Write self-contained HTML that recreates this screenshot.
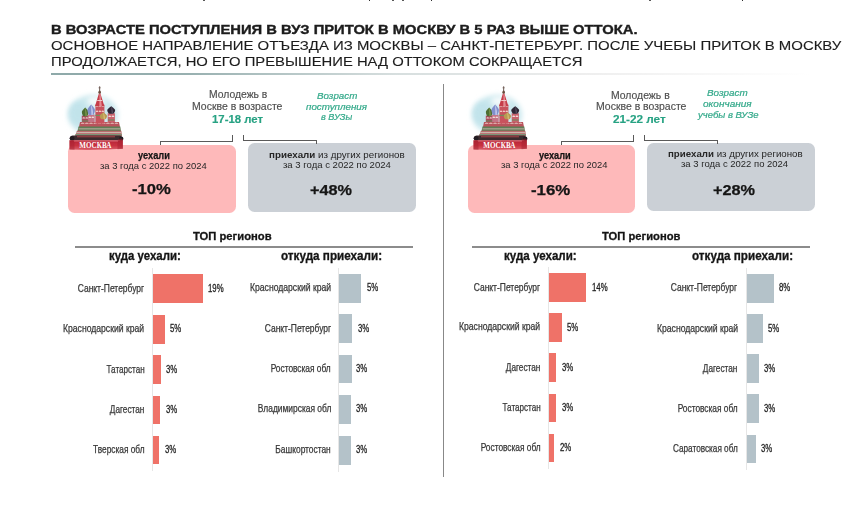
<!DOCTYPE html>
<html lang="ru"><head><meta charset="utf-8"><title>Приток и отток молодежи</title>
<style>
html,body{margin:0;padding:0;background:#fff;}
body{width:866px;height:514px;position:relative;overflow:hidden;font-family:"Liberation Sans",Arial,sans-serif;}
.t,.lb,.vl{position:absolute;white-space:nowrap;}
.t{transform-origin:0 0;}
.lb{transform-origin:100% 50%;-webkit-text-stroke:0.25px #383838;}
.vl{transform-origin:0 50%;-webkit-text-stroke:0.28px #222;}
.box{position:absolute;border-radius:6.5px;}
.ln{position:absolute;}
.ax{position:absolute;width:1px;background:#e6e6e6;}
.bar{position:absolute;}
.cat{position:absolute;overflow:visible;}
.mk{position:absolute;top:0;height:1.3px;background:#222;border-radius:0 0 1px 1px;}
.rule{position:absolute;height:2px;background:#8c8c8c;}
</style></head><body>
<div class="mk" style="left:203.2px;width:1.8px"></div>
<div class="mk" style="left:368.6px;width:1.8px"></div>
<div class="mk" style="left:392.2px;width:1.8px"></div>
<div class="mk" style="left:402.2px;width:1.8px"></div>
<div class="mk" style="left:430.6px;width:1.8px"></div>
<div class="mk" style="left:649.2px;width:1.6px"></div>
<div class="mk" style="left:741.6px;width:1.6px"></div>
<div style="position:absolute;left:50.5px;top:72.8px;width:760px;height:2.4px;background:linear-gradient(90deg,#8ea9a9 0%,#98b0b0 18%,#d6dede 45%,#eeeeee 70%,rgba(240,240,240,0) 100%)"></div>
<div style="position:absolute;left:443px;top:84px;width:1.2px;height:393px;background:#888"></div>
<div class="box" style="left:67.5px;top:144.8px;width:168.5px;height:67.9px;background:#feb9ba"></div>
<div class="box" style="left:248.3px;top:143.2px;width:167.4px;height:68.5px;background:#cbd0d6"></div>
<div class="box" style="left:468px;top:145px;width:167.0px;height:67.5px;background:#feb9ba"></div>
<div class="box" style="left:647.4px;top:143px;width:167.6px;height:68.3px;background:#cbd0d6"></div>
<div class="ln" style="left:160.3px;top:140.5px;width:73.0px;height:1px;background:#5a5a5a"></div>
<div class="ln" style="left:160.3px;top:140.5px;width:1px;height:4px;background:#5a5a5a"></div>
<div class="ln" style="left:232.3px;top:135.3px;width:1px;height:6px;background:#5a5a5a"></div>
<div class="ln" style="left:243.4px;top:140.3px;width:73.5px;height:1px;background:#5a5a5a"></div>
<div class="ln" style="left:243.4px;top:135.3px;width:1px;height:6px;background:#5a5a5a"></div>
<div class="ln" style="left:316.3px;top:140.3px;width:1px;height:4px;background:#5a5a5a"></div>
<div class="ln" style="left:560.8px;top:140.5px;width:73.0px;height:1px;background:#5a5a5a"></div>
<div class="ln" style="left:560.8px;top:140.5px;width:1px;height:4px;background:#5a5a5a"></div>
<div class="ln" style="left:632.8px;top:135.3px;width:1px;height:6px;background:#5a5a5a"></div>
<div class="ln" style="left:643.9px;top:140.3px;width:73.5px;height:1px;background:#5a5a5a"></div>
<div class="ln" style="left:643.9px;top:135.3px;width:1px;height:6px;background:#5a5a5a"></div>
<div class="ln" style="left:716.8px;top:140.3px;width:1px;height:4px;background:#5a5a5a"></div>
<svg class="cat" style="left:58px;top:78px" width="80" height="80" viewBox="58 78 80 80">
<defs><filter id="bl0" x="-60%" y="-60%" width="220%" height="220%"><feGaussianBlur stdDeviation="2.6"/></filter>
<filter id="sb0" x="-20%" y="-20%" width="140%" height="140%"><feGaussianBlur stdDeviation="0.4"/></filter></defs>
<ellipse cx="93" cy="115" rx="25" ry="20" fill="#cbe8ee" filter="url(#bl0)"/>
<ellipse cx="78" cy="113" rx="9" ry="11" fill="#bfe2ea" filter="url(#bl0)" opacity="0.8"/>
<ellipse cx="96" cy="101" rx="9" ry="5" fill="#f4fafb" filter="url(#bl0)"/>
<g filter="url(#sb0)">
<rect x="81.8" y="115.6" width="6.8" height="9" fill="#a9485a"/>
<rect x="87.9" y="114.6" width="6.8" height="10" fill="#c47486"/>
<rect x="107.7" y="113.2" width="7.2" height="11" fill="#c9636d"/>
<path d="M82.40 118.50 A1.30 1.30 0 0 1 85.00 118.50 Z" fill="#f2dcd8"/><path d="M85.40 118.50 A1.30 1.30 0 0 1 88.00 118.50 Z" fill="#f2dcd8"/>
<path d="M88.50 117.90 A1.30 1.30 0 0 1 91.10 117.90 Z" fill="#f2dcd8"/><path d="M91.50 117.90 A1.30 1.30 0 0 1 94.10 117.90 Z" fill="#f2dcd8"/>
<path d="M108.30 116.90 A1.40 1.30 0 0 1 111.10 116.90 Z" fill="#f2dcd8"/><path d="M111.50 116.90 A1.40 1.30 0 0 1 114.30 116.90 Z" fill="#f2dcd8"/>
<rect x="82" y="120.5" width="6.4" height="1" fill="#6b8a5a"/>
<rect x="108" y="119.5" width="6.6" height="1" fill="#6b8a5a"/>
<path d="M80 122 L119 122 L120 127 L79 127 Z" fill="#b9525c"/>
<path d="M80.70 124.10 A1.91 1.50 0 0 1 84.52 124.10 Z" fill="#dcaaa8"/><path d="M84.92 124.10 A1.91 1.50 0 0 1 88.74 124.10 Z" fill="#dcaaa8"/><path d="M89.14 124.10 A1.91 1.50 0 0 1 92.97 124.10 Z" fill="#dcaaa8"/><path d="M93.37 124.10 A1.91 1.50 0 0 1 97.19 124.10 Z" fill="#dcaaa8"/><path d="M97.59 124.10 A1.91 1.50 0 0 1 101.41 124.10 Z" fill="#dcaaa8"/><path d="M101.81 124.10 A1.91 1.50 0 0 1 105.63 124.10 Z" fill="#dcaaa8"/><path d="M106.03 124.10 A1.91 1.50 0 0 1 109.86 124.10 Z" fill="#dcaaa8"/><path d="M110.26 124.10 A1.91 1.50 0 0 1 114.08 124.10 Z" fill="#dcaaa8"/><path d="M114.48 124.10 A1.91 1.50 0 0 1 118.30 124.10 Z" fill="#dcaaa8"/>
<path d="M78.5 126.6 L120.3 126.6 L121 131 L77.5 131 Z" fill="#5f7f57"/>
<rect x="78.5" y="128.3" width="42" height="1.1" fill="#b9a89c"/>
<path d="M77 130.8 L121.3 130.8 L122 136 L75 136 Z" fill="#b45a5f"/>
<rect x="76" y="131.8" width="45.5" height="1.5" fill="#c9b5ab"/>
<rect x="75.5" y="134" width="46.3" height="1.4" fill="#7b9577"/>
<rect x="95.4" y="104.6" width="9" height="19" fill="#c8535d"/>
<path d="M95.80 106.60 A1.23 1.40 0 0 1 98.27 106.60 Z" fill="#f3dcd5"/><path d="M98.67 106.60 A1.23 1.40 0 0 1 101.13 106.60 Z" fill="#f3dcd5"/><path d="M101.53 106.60 A1.23 1.40 0 0 1 104.00 106.60 Z" fill="#f3dcd5"/>
<path d="M95.80 111.90 A1.23 1.40 0 0 1 98.27 111.90 Z" fill="#eec9c2"/><path d="M98.67 111.90 A1.23 1.40 0 0 1 101.13 111.90 Z" fill="#eec9c2"/><path d="M101.53 111.90 A1.23 1.40 0 0 1 104.00 111.90 Z" fill="#eec9c2"/>
<rect x="95.4" y="114.8" width="9" height="1.2" fill="#6f8f5c"/>
<path d="M98.9 93.6 L100.4 93.6 L104.3 106 L95.1 106 Z" fill="#c63c48"/>
<path d="M99.5 93.6 L100.4 93.6 L101.8 106 L99.3 106 Z" fill="#e48a91"/>
<path d="M97.4 100 L102 100 L102.3 101.1 L97.1 101.1 Z" fill="#f1c9c8"/>
<line x1="99.65" y1="86.3" x2="99.65" y2="92.5" stroke="#5e4a42" stroke-width="0.9"/>
<line x1="98.5" y1="87.8" x2="100.8" y2="87.8" stroke="#5e4a42" stroke-width="0.6"/>
<ellipse cx="99.65" cy="92.2" rx="1.3" ry="1.6" fill="#6a4c3c"/>
<path d="M85.2 107.4 C87.18 109.60000000000001 88.995 111.096 88.5 112.68 C88.33500000000001 114.44000000000001 87.18 116.2 86.685 116.2 L83.715 116.2 C83.22 116.2 82.065 114.44000000000001 81.9 112.68 C81.405 111.096 83.22 109.60000000000001 85.2 107.4 Z" fill="#4d6d31"/>
<path d="M85.2 107.4 C86 110 86.9 112 86.6 116.2 L85.5 116.2 Z" fill="#86a052"/>
<path d="M91.2 104.4 C93.42 107.05000000000001 95.455 108.852 94.9 110.76 C94.715 112.88000000000001 93.42 115.0 92.86500000000001 115.0 L89.535 115.0 C88.98 115.0 87.685 112.88000000000001 87.5 110.76 C86.94500000000001 108.852 88.98 107.05000000000001 91.2 104.4 Z" fill="#8190cc"/>
<path d="M91.2 104.4 C92 107 93.3 110 92.7 115 L91.5 115 Z" fill="#cdd3f1"/>
<path d="M111.2 106.3 C113.54 108.175 115.685 109.45 115.10000000000001 110.8 C114.905 112.3 113.54 113.8 112.955 113.8 L109.44500000000001 113.8 C108.86 113.8 107.495 112.3 107.3 110.8 C106.715 109.45 108.86 108.175 111.2 106.3 Z" fill="#2e2735"/>
<path d="M111.2 106.3 C112 108 113.2 110 112.8 113.8 L111.8 113.8 Z" fill="#5b5266"/>
<path d="M103.4 112.3 C105.56 114.05 107.54 115.24 107.0 116.5 C106.82000000000001 117.89999999999999 105.56 119.3 105.02000000000001 119.3 L101.78 119.3 C101.24000000000001 119.3 99.98 117.89999999999999 99.80000000000001 116.5 C99.26 115.24 101.24000000000001 114.05 103.4 112.3 Z" fill="#b89b52"/>
<path d="M103.4 112.3 C104 114 105 116 104.7 119.3 L103.8 119.3 Z" fill="#e0c77c"/>
<rect x="70.5" y="135.6" width="51.5" height="4.6" rx="2" fill="#3a2a2e"/>
<circle cx="72" cy="138.3" r="2.4" fill="#241c20"/>
<circle cx="121.2" cy="138.8" r="2.2" fill="#241c20"/>
<rect x="77" y="135.8" width="38" height="1.6" fill="#8a3a40"/>
</g>
<linearGradient id="rg0" x1="0" y1="0" x2="0" y2="1"><stop offset="0" stop-color="#b52535"/><stop offset="0.55" stop-color="#c93241"/><stop offset="1" stop-color="#d9606b"/></linearGradient>
<path d="M69.5 140.2 L122.8 140.2 L122.8 148.8 Q96 150.6 69.5 149.6 Z" fill="url(#rg0)" filter="url(#sb0)"/>
<path d="M69.5 140.2 L74.5 140.2 L74.5 149.8 L69.5 149.6 Z" fill="#a3202f" opacity="0.5"/>
<path d="M117.5 140 Q121 137.5 123 139.5 L123 148.8 L117.5 149.2 Z" fill="#a3202f" opacity="0.5"/>
<rect x="74" y="140.5" width="44" height="1.2" fill="#e07a83" opacity="0.55"/>
<text x="95.3" y="148.3" text-anchor="middle" font-family="Liberation Serif, serif" font-weight="700" font-size="8.4" fill="#fff" textLength="32" lengthAdjust="spacingAndGlyphs">МОСКВА</text>
</svg>
<svg class="cat" style="left:462px;top:78px" width="80" height="80" viewBox="58 78 80 80">
<defs><filter id="bl404" x="-60%" y="-60%" width="220%" height="220%"><feGaussianBlur stdDeviation="2.6"/></filter>
<filter id="sb404" x="-20%" y="-20%" width="140%" height="140%"><feGaussianBlur stdDeviation="0.4"/></filter></defs>
<ellipse cx="93" cy="115" rx="25" ry="20" fill="#cbe8ee" filter="url(#bl404)"/>
<ellipse cx="78" cy="113" rx="9" ry="11" fill="#bfe2ea" filter="url(#bl404)" opacity="0.8"/>
<ellipse cx="96" cy="101" rx="9" ry="5" fill="#f4fafb" filter="url(#bl404)"/>
<g filter="url(#sb404)">
<rect x="81.8" y="115.6" width="6.8" height="9" fill="#a9485a"/>
<rect x="87.9" y="114.6" width="6.8" height="10" fill="#c47486"/>
<rect x="107.7" y="113.2" width="7.2" height="11" fill="#c9636d"/>
<path d="M82.40 118.50 A1.30 1.30 0 0 1 85.00 118.50 Z" fill="#f2dcd8"/><path d="M85.40 118.50 A1.30 1.30 0 0 1 88.00 118.50 Z" fill="#f2dcd8"/>
<path d="M88.50 117.90 A1.30 1.30 0 0 1 91.10 117.90 Z" fill="#f2dcd8"/><path d="M91.50 117.90 A1.30 1.30 0 0 1 94.10 117.90 Z" fill="#f2dcd8"/>
<path d="M108.30 116.90 A1.40 1.30 0 0 1 111.10 116.90 Z" fill="#f2dcd8"/><path d="M111.50 116.90 A1.40 1.30 0 0 1 114.30 116.90 Z" fill="#f2dcd8"/>
<rect x="82" y="120.5" width="6.4" height="1" fill="#6b8a5a"/>
<rect x="108" y="119.5" width="6.6" height="1" fill="#6b8a5a"/>
<path d="M80 122 L119 122 L120 127 L79 127 Z" fill="#b9525c"/>
<path d="M80.70 124.10 A1.91 1.50 0 0 1 84.52 124.10 Z" fill="#dcaaa8"/><path d="M84.92 124.10 A1.91 1.50 0 0 1 88.74 124.10 Z" fill="#dcaaa8"/><path d="M89.14 124.10 A1.91 1.50 0 0 1 92.97 124.10 Z" fill="#dcaaa8"/><path d="M93.37 124.10 A1.91 1.50 0 0 1 97.19 124.10 Z" fill="#dcaaa8"/><path d="M97.59 124.10 A1.91 1.50 0 0 1 101.41 124.10 Z" fill="#dcaaa8"/><path d="M101.81 124.10 A1.91 1.50 0 0 1 105.63 124.10 Z" fill="#dcaaa8"/><path d="M106.03 124.10 A1.91 1.50 0 0 1 109.86 124.10 Z" fill="#dcaaa8"/><path d="M110.26 124.10 A1.91 1.50 0 0 1 114.08 124.10 Z" fill="#dcaaa8"/><path d="M114.48 124.10 A1.91 1.50 0 0 1 118.30 124.10 Z" fill="#dcaaa8"/>
<path d="M78.5 126.6 L120.3 126.6 L121 131 L77.5 131 Z" fill="#5f7f57"/>
<rect x="78.5" y="128.3" width="42" height="1.1" fill="#b9a89c"/>
<path d="M77 130.8 L121.3 130.8 L122 136 L75 136 Z" fill="#b45a5f"/>
<rect x="76" y="131.8" width="45.5" height="1.5" fill="#c9b5ab"/>
<rect x="75.5" y="134" width="46.3" height="1.4" fill="#7b9577"/>
<rect x="95.4" y="104.6" width="9" height="19" fill="#c8535d"/>
<path d="M95.80 106.60 A1.23 1.40 0 0 1 98.27 106.60 Z" fill="#f3dcd5"/><path d="M98.67 106.60 A1.23 1.40 0 0 1 101.13 106.60 Z" fill="#f3dcd5"/><path d="M101.53 106.60 A1.23 1.40 0 0 1 104.00 106.60 Z" fill="#f3dcd5"/>
<path d="M95.80 111.90 A1.23 1.40 0 0 1 98.27 111.90 Z" fill="#eec9c2"/><path d="M98.67 111.90 A1.23 1.40 0 0 1 101.13 111.90 Z" fill="#eec9c2"/><path d="M101.53 111.90 A1.23 1.40 0 0 1 104.00 111.90 Z" fill="#eec9c2"/>
<rect x="95.4" y="114.8" width="9" height="1.2" fill="#6f8f5c"/>
<path d="M98.9 93.6 L100.4 93.6 L104.3 106 L95.1 106 Z" fill="#c63c48"/>
<path d="M99.5 93.6 L100.4 93.6 L101.8 106 L99.3 106 Z" fill="#e48a91"/>
<path d="M97.4 100 L102 100 L102.3 101.1 L97.1 101.1 Z" fill="#f1c9c8"/>
<line x1="99.65" y1="86.3" x2="99.65" y2="92.5" stroke="#5e4a42" stroke-width="0.9"/>
<line x1="98.5" y1="87.8" x2="100.8" y2="87.8" stroke="#5e4a42" stroke-width="0.6"/>
<ellipse cx="99.65" cy="92.2" rx="1.3" ry="1.6" fill="#6a4c3c"/>
<path d="M85.2 107.4 C87.18 109.60000000000001 88.995 111.096 88.5 112.68 C88.33500000000001 114.44000000000001 87.18 116.2 86.685 116.2 L83.715 116.2 C83.22 116.2 82.065 114.44000000000001 81.9 112.68 C81.405 111.096 83.22 109.60000000000001 85.2 107.4 Z" fill="#4d6d31"/>
<path d="M85.2 107.4 C86 110 86.9 112 86.6 116.2 L85.5 116.2 Z" fill="#86a052"/>
<path d="M91.2 104.4 C93.42 107.05000000000001 95.455 108.852 94.9 110.76 C94.715 112.88000000000001 93.42 115.0 92.86500000000001 115.0 L89.535 115.0 C88.98 115.0 87.685 112.88000000000001 87.5 110.76 C86.94500000000001 108.852 88.98 107.05000000000001 91.2 104.4 Z" fill="#8190cc"/>
<path d="M91.2 104.4 C92 107 93.3 110 92.7 115 L91.5 115 Z" fill="#cdd3f1"/>
<path d="M111.2 106.3 C113.54 108.175 115.685 109.45 115.10000000000001 110.8 C114.905 112.3 113.54 113.8 112.955 113.8 L109.44500000000001 113.8 C108.86 113.8 107.495 112.3 107.3 110.8 C106.715 109.45 108.86 108.175 111.2 106.3 Z" fill="#2e2735"/>
<path d="M111.2 106.3 C112 108 113.2 110 112.8 113.8 L111.8 113.8 Z" fill="#5b5266"/>
<path d="M103.4 112.3 C105.56 114.05 107.54 115.24 107.0 116.5 C106.82000000000001 117.89999999999999 105.56 119.3 105.02000000000001 119.3 L101.78 119.3 C101.24000000000001 119.3 99.98 117.89999999999999 99.80000000000001 116.5 C99.26 115.24 101.24000000000001 114.05 103.4 112.3 Z" fill="#b89b52"/>
<path d="M103.4 112.3 C104 114 105 116 104.7 119.3 L103.8 119.3 Z" fill="#e0c77c"/>
<rect x="70.5" y="135.6" width="51.5" height="4.6" rx="2" fill="#3a2a2e"/>
<circle cx="72" cy="138.3" r="2.4" fill="#241c20"/>
<circle cx="121.2" cy="138.8" r="2.2" fill="#241c20"/>
<rect x="77" y="135.8" width="38" height="1.6" fill="#8a3a40"/>
</g>
<linearGradient id="rg404" x1="0" y1="0" x2="0" y2="1"><stop offset="0" stop-color="#b52535"/><stop offset="0.55" stop-color="#c93241"/><stop offset="1" stop-color="#d9606b"/></linearGradient>
<path d="M69.5 140.2 L122.8 140.2 L122.8 148.8 Q96 150.6 69.5 149.6 Z" fill="url(#rg404)" filter="url(#sb404)"/>
<path d="M69.5 140.2 L74.5 140.2 L74.5 149.8 L69.5 149.6 Z" fill="#a3202f" opacity="0.5"/>
<path d="M117.5 140 Q121 137.5 123 139.5 L123 148.8 L117.5 149.2 Z" fill="#a3202f" opacity="0.5"/>
<rect x="74" y="140.5" width="44" height="1.2" fill="#e07a83" opacity="0.55"/>
<text x="95.3" y="148.3" text-anchor="middle" font-family="Liberation Serif, serif" font-weight="700" font-size="8.4" fill="#fff" textLength="32" lengthAdjust="spacingAndGlyphs">МОСКВА</text>
</svg>
<div class="rule" style="left:75px;top:245.8px;width:338px"></div>
<div class="rule" style="left:472px;top:245.8px;width:337.5px"></div>
<div class="ax" style="left:151.80px;top:267.7px;height:203.7px"></div>
<div class="bar" style="left:152.70px;top:274.20px;width:50.00px;height:28.5px;background:#ef7268"></div>
<div class="lb" style="right:721.80px;top:283.50px;font-size:10.1px;line-height:10.1px;transform:scaleX(0.8394);color:#383838">Санкт-Петербург</div>
<div class="vl" style="left:208.20px;top:283.68px;font-size:10px;line-height:10px;transform:scaleX(0.7780952380952381);color:#222">19%</div>
<div class="bar" style="left:152.70px;top:315.00px;width:12.00px;height:28.5px;background:#ef7268"></div>
<div class="lb" style="right:721.80px;top:324.30px;font-size:10.1px;line-height:10.1px;transform:scaleX(0.8526);color:#383838">Краснодарский край</div>
<div class="vl" style="left:169.80px;top:324.48px;font-size:10px;line-height:10px;transform:scaleX(0.7780952380952381);color:#222">5%</div>
<div class="bar" style="left:152.70px;top:355.40px;width:8.30px;height:28.5px;background:#ef7268"></div>
<div class="lb" style="right:721.80px;top:364.70px;font-size:10.1px;line-height:10.1px;transform:scaleX(0.8000);color:#383838">Татарстан</div>
<div class="vl" style="left:166.30px;top:364.88px;font-size:10px;line-height:10px;transform:scaleX(0.7780952380952381);color:#222">3%</div>
<div class="bar" style="left:152.70px;top:395.60px;width:7.20px;height:28.5px;background:#ef7268"></div>
<div class="lb" style="right:721.80px;top:404.90px;font-size:10.1px;line-height:10.1px;transform:scaleX(0.8140);color:#383838">Дагестан</div>
<div class="vl" style="left:165.60px;top:405.08px;font-size:10px;line-height:10px;transform:scaleX(0.7780952380952381);color:#222">3%</div>
<div class="bar" style="left:152.70px;top:435.90px;width:6.60px;height:28.5px;background:#ef7268"></div>
<div class="lb" style="right:721.80px;top:445.20px;font-size:10.1px;line-height:10.1px;transform:scaleX(0.8238);color:#383838">Тверская обл</div>
<div class="vl" style="left:165.10px;top:445.38px;font-size:10px;line-height:10px;transform:scaleX(0.7780952380952381);color:#222">3%</div>
<div class="ax" style="left:337.90px;top:267.5px;height:204.0px"></div>
<div class="bar" style="left:338.80px;top:274.00px;width:22.20px;height:28.5px;background:#b4c2c9"></div>
<div class="lb" style="right:535.00px;top:283.30px;font-size:10.1px;line-height:10.1px;transform:scaleX(0.8526);color:#383838">Краснодарский край</div>
<div class="vl" style="left:366.50px;top:283.48px;font-size:10px;line-height:10px;transform:scaleX(0.7780952380952381);color:#222">5%</div>
<div class="bar" style="left:338.80px;top:314.40px;width:13.00px;height:28.5px;background:#b4c2c9"></div>
<div class="lb" style="right:535.00px;top:323.70px;font-size:10.1px;line-height:10.1px;transform:scaleX(0.8394);color:#383838">Санкт-Петербург</div>
<div class="vl" style="left:357.50px;top:323.88px;font-size:10px;line-height:10px;transform:scaleX(0.7780952380952381);color:#222">3%</div>
<div class="bar" style="left:338.80px;top:354.60px;width:12.80px;height:28.5px;background:#b4c2c9"></div>
<div class="lb" style="right:535.00px;top:363.90px;font-size:10.1px;line-height:10.1px;transform:scaleX(0.8260);color:#383838">Ростовская обл</div>
<div class="vl" style="left:356.20px;top:364.08px;font-size:10px;line-height:10px;transform:scaleX(0.7780952380952381);color:#222">3%</div>
<div class="bar" style="left:338.80px;top:395.00px;width:12.20px;height:28.5px;background:#b4c2c9"></div>
<div class="lb" style="right:535.00px;top:404.30px;font-size:10.1px;line-height:10.1px;transform:scaleX(0.8330);color:#383838">Владимирская обл</div>
<div class="vl" style="left:356.20px;top:404.48px;font-size:10px;line-height:10px;transform:scaleX(0.7780952380952381);color:#222">3%</div>
<div class="bar" style="left:338.80px;top:436.00px;width:12.20px;height:28.5px;background:#b4c2c9"></div>
<div class="lb" style="right:535.00px;top:445.30px;font-size:10.1px;line-height:10.1px;transform:scaleX(0.8299);color:#383838">Башкортостан</div>
<div class="vl" style="left:356.20px;top:445.48px;font-size:10px;line-height:10px;transform:scaleX(0.7780952380952381);color:#222">3%</div>
<div class="ax" style="left:547.80px;top:266.7px;height:202.3px"></div>
<div class="bar" style="left:548.70px;top:273.20px;width:37.10px;height:28.5px;background:#ef7268"></div>
<div class="lb" style="right:325.60px;top:282.50px;font-size:10.1px;line-height:10.1px;transform:scaleX(0.8394);color:#383838">Санкт-Петербург</div>
<div class="vl" style="left:591.90px;top:282.68px;font-size:10px;line-height:10px;transform:scaleX(0.7780952380952381);color:#222">14%</div>
<div class="bar" style="left:548.70px;top:313.10px;width:13.20px;height:28.5px;background:#ef7268"></div>
<div class="lb" style="right:325.60px;top:322.40px;font-size:10.1px;line-height:10.1px;transform:scaleX(0.8526);color:#383838">Краснодарский край</div>
<div class="vl" style="left:567.00px;top:322.58px;font-size:10px;line-height:10px;transform:scaleX(0.7780952380952381);color:#222">5%</div>
<div class="bar" style="left:548.70px;top:353.30px;width:7.80px;height:28.5px;background:#ef7268"></div>
<div class="lb" style="right:325.60px;top:362.60px;font-size:10.1px;line-height:10.1px;transform:scaleX(0.8140);color:#383838">Дагестан</div>
<div class="vl" style="left:562.00px;top:362.78px;font-size:10px;line-height:10px;transform:scaleX(0.7780952380952381);color:#222">3%</div>
<div class="bar" style="left:548.70px;top:393.80px;width:7.30px;height:28.5px;background:#ef7268"></div>
<div class="lb" style="right:325.60px;top:403.10px;font-size:10.1px;line-height:10.1px;transform:scaleX(0.8000);color:#383838">Татарстан</div>
<div class="vl" style="left:561.60px;top:403.28px;font-size:10px;line-height:10px;transform:scaleX(0.7780952380952381);color:#222">3%</div>
<div class="bar" style="left:548.70px;top:433.50px;width:5.30px;height:28.5px;background:#ef7268"></div>
<div class="lb" style="right:325.60px;top:442.80px;font-size:10.1px;line-height:10.1px;transform:scaleX(0.8260);color:#383838">Ростовская обл</div>
<div class="vl" style="left:559.60px;top:442.98px;font-size:10px;line-height:10px;transform:scaleX(0.7780952380952381);color:#222">2%</div>
<div class="ax" style="left:745.80px;top:267.5px;height:202.7px"></div>
<div class="bar" style="left:746.70px;top:274.00px;width:26.90px;height:28.5px;background:#b4c2c9"></div>
<div class="lb" style="right:128.40px;top:283.30px;font-size:10.1px;line-height:10.1px;transform:scaleX(0.8394);color:#383838">Санкт-Петербург</div>
<div class="vl" style="left:778.60px;top:283.48px;font-size:10px;line-height:10px;transform:scaleX(0.7780952380952381);color:#222">8%</div>
<div class="bar" style="left:746.70px;top:314.40px;width:16.00px;height:28.5px;background:#b4c2c9"></div>
<div class="lb" style="right:128.40px;top:323.70px;font-size:10.1px;line-height:10.1px;transform:scaleX(0.8526);color:#383838">Краснодарский край</div>
<div class="vl" style="left:768.00px;top:323.88px;font-size:10px;line-height:10px;transform:scaleX(0.7780952380952381);color:#222">5%</div>
<div class="bar" style="left:746.70px;top:354.40px;width:11.90px;height:28.5px;background:#b4c2c9"></div>
<div class="lb" style="right:128.40px;top:363.70px;font-size:10.1px;line-height:10.1px;transform:scaleX(0.8140);color:#383838">Дагестан</div>
<div class="vl" style="left:763.70px;top:363.88px;font-size:10px;line-height:10px;transform:scaleX(0.7780952380952381);color:#222">3%</div>
<div class="bar" style="left:746.70px;top:394.30px;width:11.90px;height:28.5px;background:#b4c2c9"></div>
<div class="lb" style="right:128.40px;top:403.60px;font-size:10.1px;line-height:10.1px;transform:scaleX(0.8260);color:#383838">Ростовская обл</div>
<div class="vl" style="left:763.70px;top:403.78px;font-size:10px;line-height:10px;transform:scaleX(0.7780952380952381);color:#222">3%</div>
<div class="bar" style="left:746.70px;top:434.70px;width:9.30px;height:28.5px;background:#b4c2c9"></div>
<div class="lb" style="right:128.40px;top:444.00px;font-size:10.1px;line-height:10.1px;transform:scaleX(0.8125);color:#383838">Саратовская обл</div>
<div class="vl" style="left:760.60px;top:444.18px;font-size:10px;line-height:10px;transform:scaleX(0.7780952380952381);color:#222">3%</div>
<div class="t" id="t1" style="left:50.55px;top:23.64px;font-size:12px;line-height:12px;font-weight:700;-webkit-text-stroke:0.35px #1c1c1c;color:#1c1c1c;transform:scaleX(1.2302);">В ВОЗРАСТЕ ПОСТУПЛЕНИЯ В ВУЗ ПРИТОК В МОСКВУ В 5 РАЗ ВЫШЕ ОТТОКА.</div>
<div class="t" id="t2" style="left:50.57px;top:38.79px;font-size:13px;line-height:13px;font-weight:400;-webkit-text-stroke:0.12px #1c1c1c;color:#1c1c1c;transform:scaleX(1.1483);">ОСНОВНОЕ НАПРАВЛЕНИЕ ОТЪЕЗДА ИЗ МОСКВЫ – САНКТ-ПЕТЕРБУРГ. ПОСЛЕ УЧЕБЫ ПРИТОК В МОСКВУ</div>
<div class="t" id="t3" style="left:50.57px;top:54.89px;font-size:13px;line-height:13px;font-weight:400;-webkit-text-stroke:0.12px #1c1c1c;color:#1c1c1c;transform:scaleX(1.1397);">ПРОДОЛЖАЕТСЯ, НО ЕГО ПРЕВЫШЕНИЕ НАД ОТТОКОМ СОКРАЩАЕТСЯ</div>
<div class="t" id="Lm1" style="left:209.00px;top:90.43px;font-size:10px;line-height:10px;font-weight:400;-webkit-text-stroke:0.15px #4e4e4e;color:#4e4e4e;transform:scaleX(1.0357);">Молодежь в</div>
<div class="t" id="Lm2" style="left:192.35px;top:102.13px;font-size:10px;line-height:10px;font-weight:400;-webkit-text-stroke:0.15px #4e4e4e;color:#4e4e4e;transform:scaleX(1.0465);">Москве в возрасте</div>
<div class="t" id="Lm3" style="left:211.78px;top:114.21px;font-size:10.5px;line-height:10.5px;font-weight:700;-webkit-text-stroke:0.15px #27a283;color:#27a283;transform:scaleX(1.0813);">17-18 лет</div>
<div class="t" id="Li1" style="left:316.63px;top:91.55px;font-size:8.8px;line-height:8.8px;font-weight:400;font-style:italic;-webkit-text-stroke:0.2px #33a98a;color:#33a98a;transform:scaleX(1.1108);">Возраст</div>
<div class="t" id="Li2" style="left:305.84px;top:102.55px;font-size:8.8px;line-height:8.8px;font-weight:400;font-style:italic;-webkit-text-stroke:0.2px #33a98a;color:#33a98a;transform:scaleX(1.1143);">поступления</div>
<div class="t" id="Li3" style="left:321.02px;top:113.45px;font-size:8.8px;line-height:8.8px;font-weight:400;font-style:italic;-webkit-text-stroke:0.2px #33a98a;color:#33a98a;transform:scaleX(1.0387);">в ВУЗы</div>
<div class="t" id="Rm1" style="left:610.77px;top:90.63px;font-size:10px;line-height:10px;font-weight:400;-webkit-text-stroke:0.15px #4e4e4e;color:#4e4e4e;transform:scaleX(1.0411);">Молодежь в</div>
<div class="t" id="Rm2" style="left:595.59px;top:102.13px;font-size:10px;line-height:10px;font-weight:400;-webkit-text-stroke:0.15px #4e4e4e;color:#4e4e4e;transform:scaleX(1.0465);">Москве в возрасте</div>
<div class="t" id="Rm3" style="left:613.20px;top:114.21px;font-size:10.5px;line-height:10.5px;font-weight:700;-webkit-text-stroke:0.15px #27a283;color:#27a283;transform:scaleX(1.1187);">21-22 лет</div>
<div class="t" id="Ri1" style="left:707.27px;top:88.85px;font-size:8.8px;line-height:8.8px;font-weight:400;font-style:italic;-webkit-text-stroke:0.2px #33a98a;color:#33a98a;transform:scaleX(1.1243);">Возраст</div>
<div class="t" id="Ri2" style="left:702.78px;top:99.95px;font-size:8.8px;line-height:8.8px;font-weight:400;font-style:italic;-webkit-text-stroke:0.2px #33a98a;color:#33a98a;transform:scaleX(1.1419);">окончания</div>
<div class="t" id="Ri3" style="left:697.86px;top:111.05px;font-size:8.8px;line-height:8.8px;font-weight:400;font-style:italic;-webkit-text-stroke:0.2px #33a98a;color:#33a98a;transform:scaleX(1.0789);">учебы в ВУЗе</div>
<div class="t" id="Lp1" style="left:138.31px;top:150.41px;font-size:10.5px;line-height:10.5px;font-weight:700;-webkit-text-stroke:0.25px #151515;color:#151515;transform:scaleX(0.8811);">уехали</div>
<div class="t" id="Lp2" style="left:100.38px;top:160.70px;font-size:9.8px;line-height:9.8px;font-weight:400;color:#262626;transform:scaleX(0.9631);">за 3 года с 2022 по 2024</div>
<div class="t" id="Lp3" style="left:132.00px;top:182.22px;font-size:14.5px;line-height:14.5px;font-weight:700;-webkit-text-stroke:0.25px #151515;color:#151515;transform:scaleX(1.1471);">-10%</div>
<div class="t" id="Lg1" style="left:269.39px;top:150.00px;font-size:9.8px;line-height:9.8px;font-weight:400;color:#262626;transform:scaleX(0.9985);"><b>приехали</b> из других регионов</div>
<div class="t" id="Lg2" style="left:283.19px;top:159.80px;font-size:9.8px;line-height:9.8px;font-weight:400;color:#262626;transform:scaleX(0.9739);">за 3 года с 2022 по 2024</div>
<div class="t" id="Lg3" style="left:309.78px;top:182.62px;font-size:14.5px;line-height:14.5px;font-weight:700;-webkit-text-stroke:0.25px #151515;color:#151515;transform:scaleX(1.1184);">+48%</div>
<div class="t" id="Rp1" style="left:538.94px;top:149.61px;font-size:10.5px;line-height:10.5px;font-weight:700;-webkit-text-stroke:0.25px #151515;color:#151515;transform:scaleX(0.8757);">уехали</div>
<div class="t" id="Rp2" style="left:501.00px;top:159.90px;font-size:9.8px;line-height:9.8px;font-weight:400;color:#262626;transform:scaleX(0.9622);">за 3 года с 2022 по 2024</div>
<div class="t" id="Rp3" style="left:531.00px;top:182.72px;font-size:14.5px;line-height:14.5px;font-weight:700;-webkit-text-stroke:0.25px #151515;color:#151515;transform:scaleX(1.1588);">-16%</div>
<div class="t" id="Rg1" style="left:667.59px;top:149.40px;font-size:9.8px;line-height:9.8px;font-weight:400;color:#262626;transform:scaleX(0.9912);"><b>приехали</b> из других регионов</div>
<div class="t" id="Rg2" style="left:681.00px;top:159.20px;font-size:9.8px;line-height:9.8px;font-weight:400;color:#262626;transform:scaleX(0.9676);">за 3 года с 2022 по 2024</div>
<div class="t" id="Rg3" style="left:712.84px;top:182.72px;font-size:14.5px;line-height:14.5px;font-weight:700;-webkit-text-stroke:0.25px #151515;color:#151515;transform:scaleX(1.1211);">+28%</div>
<div class="t" id="Lh" style="left:192.80px;top:231.39px;font-size:11px;line-height:11px;font-weight:700;-webkit-text-stroke:0.3px #151515;color:#151515;transform:scaleX(1.0205);">ТОП регионов</div>
<div class="t" id="Rh" style="left:601.61px;top:231.39px;font-size:11px;line-height:11px;font-weight:700;-webkit-text-stroke:0.3px #151515;color:#151515;transform:scaleX(1.0179);">ТОП регионов</div>
<div class="t" id="Lc1" style="left:108.98px;top:249.64px;font-size:12px;line-height:12px;font-weight:700;-webkit-text-stroke:0.3px #151515;color:#151515;transform:scaleX(0.9526);">куда уехали:</div>
<div class="t" id="Lc2" style="left:280.99px;top:249.84px;font-size:12px;line-height:12px;font-weight:700;-webkit-text-stroke:0.3px #151515;color:#151515;transform:scaleX(0.9750);">откуда приехали:</div>
<div class="t" id="Rc1" style="left:504.40px;top:249.94px;font-size:12px;line-height:12px;font-weight:700;-webkit-text-stroke:0.3px #151515;color:#151515;transform:scaleX(0.9640);">куда уехали:</div>
<div class="t" id="Rc2" style="left:692.37px;top:249.84px;font-size:12px;line-height:12px;font-weight:700;-webkit-text-stroke:0.3px #151515;color:#151515;transform:scaleX(0.9740);">откуда приехали:</div>
</body></html>
